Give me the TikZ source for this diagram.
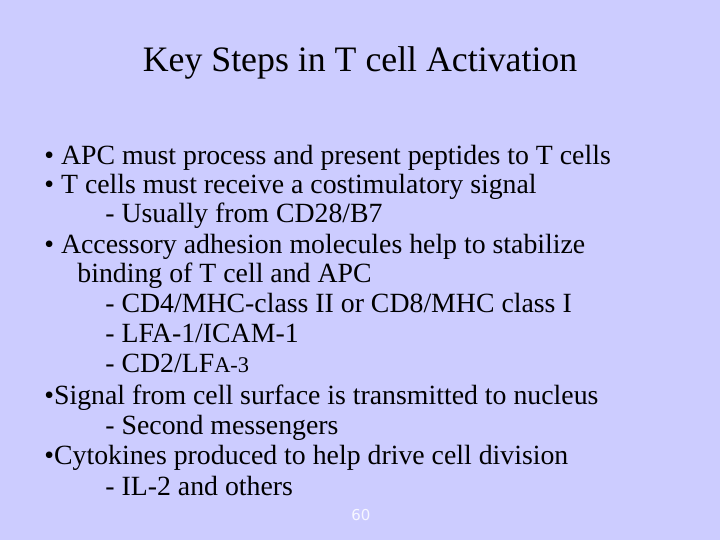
\documentclass[tikz,border=0pt]{standalone}
\usepackage{fontspec}
\setmainfont{Liberation Serif}
\newfontfamily\numfont{DejaVu Sans}
\definecolor{slidebg}{RGB}{204,204,255}
\begin{document}
\begin{tikzpicture}[x=0.5pt,y=-0.5pt]
    % Background
    \fill[slidebg] (0,0) rectangle (720,540);
    \useasboundingbox (0,0) rectangle (720,540);

    \tikzset{line/.style={anchor=base west, inner sep=0pt, font=\fontsize{13.9}{15}\selectfont}}

    % Title
    \node[anchor=base, inner sep=0pt, font=\fontsize{17.9}{20}\selectfont] (title) at (360,72) {Key Steps in T cell Activation};

    % Bullets
    \node[line] (l1) at (44,165) {\textbullet{} APC must process and present peptides to T cells};
    \node[line] (l2) at (44,194) {\textbullet{} T cells must receive a costimulatory signal};
    \node[line] (l3) at (105,223) {- Usually from CD28/B7};
    \node[line] (l4) at (44,254) {\textbullet{} Accessory adhesion molecules help to stabilize};
    \node[line] (l5) at (77,283) {binding of T cell and APC};
    \node[line] (l6) at (105,313) {- CD4/MHC-class II or CD8/MHC class I};
    \node[line] (l7) at (105,343) {- LFA-1/ICAM-1};
    \node[line] (l8) at (105,373) {- CD2/LF{\fontsize{11.2}{12}\selectfont A-3}};
    \node[line] (l9) at (44,405) {\textbullet Signal from cell surface is transmitted to nucleus};
    \node[line] (l10) at (105,435) {- Second messengers};
    \node[line] (l11) at (44,465) {\textbullet Cytokines produced to help drive cell division};
    \node[line] (l12) at (105,496) {- IL-2 and others};

    % Page number
    \node[anchor=base, inner sep=0pt, text=white!85!slidebg, font=\numfont\fontsize{7.5}{9}\selectfont] (page) at (361,521) {60};
\end{tikzpicture}
\end{document}
